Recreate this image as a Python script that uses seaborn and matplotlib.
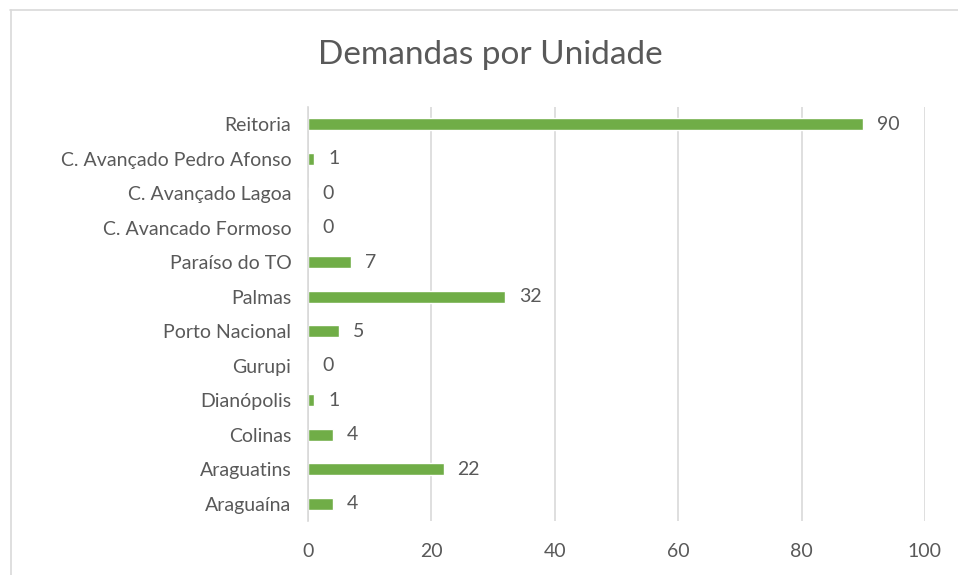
import matplotlib
matplotlib.use('Agg')
import matplotlib.pyplot as plt
import seaborn as sns
import pandas as pd
from matplotlib.lines import Line2D

# Dados do gráfico (de cima para baixo)
unidades = [
    "Reitoria", "C. Avançado Pedro Afonso", "C. Avançado Lagoa",
    "C. Avancado Formoso", "Paraíso do TO", "Palmas", "Porto Nacional",
    "Gurupi", "Dianópolis", "Colinas", "Araguatins", "Araguaína",
]
demandas = [90, 1, 0, 0, 7, 32, 5, 0, 1, 4, 22, 4]
ticks_x = [0, 20, 40, 60, 80, 100]

VERDE = "#70AD47"
CINZA_TEXTO = "#595959"
CINZA_GRADE = "#D9D9D9"

sns.set_theme(style="white")
plt.rcParams['font.family'] = ['Lato', 'DejaVu Sans']

df = pd.DataFrame({"unidade": unidades, "demandas": demandas})

fig = plt.figure(figsize=(9.58, 5.75), dpi=100)
ax = fig.add_axes([0.3215, 0.094, 0.644, 0.72])

sns.barplot(data=df, y="unidade", x="demandas", orient="h", color=VERDE,
            width=0.34, saturation=1, ax=ax)

ax.set_xlim(0, 100)
ax.set_ylim(len(unidades) - 0.5, -0.5)
ax.set_xticks(ticks_x)
ax.xaxis.grid(True, color=CINZA_GRADE, linewidth=1.2)
ax.set_axisbelow(True)
for lado in ["top", "right", "bottom"]:
    ax.spines[lado].set_visible(False)
ax.spines["left"].set_color(CINZA_GRADE)
ax.spines["left"].set_linewidth(1.2)
ax.tick_params(axis="both", length=0, labelsize=14, colors=CINZA_TEXTO)
ax.tick_params(axis="x", pad=16)
ax.tick_params(axis="y", pad=12)
ax.set_xlabel("")
ax.set_ylabel("")

# Rótulos de dados
for cont in ax.containers:
    ax.bar_label(cont, labels=[str(v) for v in demandas], padding=10,
                 fontsize=14, color=CINZA_TEXTO)

fig.suptitle("Demandas por Unidade", x=0.512, y=0.93, fontsize=24,
             color=CINZA_TEXTO)

# Borda da área do gráfico
fig.add_artist(Line2D([10 / 958, 1], [1 - 9.5 / 575, 1 - 9.5 / 575],
                      transform=fig.transFigure, color=CINZA_GRADE, lw=1.2))
fig.add_artist(Line2D([10.5 / 958, 10.5 / 958], [0, 1 - 9.5 / 575],
                      transform=fig.transFigure, color=CINZA_GRADE, lw=1.2))

fig.savefig("out.png", dpi=100)
plt.close(fig)
